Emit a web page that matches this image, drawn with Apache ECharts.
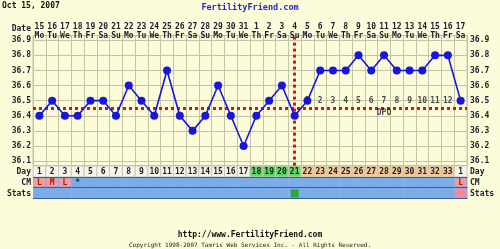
<!DOCTYPE html>
<html><head><meta charset="utf-8">
<script src="https://cdn.jsdelivr.net/npm/echarts@6/dist/echarts.min.js"></script>
<style>html,body{margin:0;padding:0;background:#FCFBDA;}#c{width:500px;height:249px;}</style>
</head><body><div id="c"></div>
<script>
// ---- data ----
const cycleDays = [1,2,3,4,5,6,7,8,9,10,11,12,13,14,15,16,17,18,19,20,21,22,23,24,25,26,27,28,29,30,31,32,33,1];
const dates = ['15','16','17','18','19','20','21','22','23','24','25','26','27','28','29','30','31','1','2','3','4','5','6','7','8','9','10','11','12','13','14','15','16','17'];
const weekdays = ['Mo','Tu','We','Th','Fr','Sa','Su','Mo','Tu','We','Th','Fr','Sa','Su','Mo','Tu','We','Th','Fr','Sa','Su','Mo','Tu','We','Th','Fr','Sa','Su','Mo','Tu','We','Th','Fr','Sa'];
const temps = [36.4,36.5,36.4,36.4,36.5,36.5,36.4,36.6,36.5,36.4,36.7,36.4,36.3,36.4,36.6,36.4,36.2,36.4,36.5,36.6,36.4,36.5,36.7,36.7,36.7,36.8,36.7,36.8,36.7,36.7,36.7,36.8,36.8,36.5];
const dayPhase = ['n','n','n','n','n','n','n','n','n','n','n','n','n','n','n','n','n','f','f','f','f','l','l','l','l','l','l','l','l','l','l','l','l','n'];
const cm = ['L','M','L','*','','','','','','','','','','','','','','','','','','','','','','','','','','','','','','L'];
const stats = ['','','','','','','','','','','','','','','','','','','','','O','','','','','','','','','','','','','P'];
const dpo = [null,null,null,null,null,null,null,null,null,null,null,null,null,null,null,null,null,null,null,null,null,1,2,3,4,5,6,7,8,9,10,11,12,null];
const rowNames = ['Day','CM','Stats'];
const coverline = 36.45;
const ovulationIndex = 20;
const dpoLevel = 36.5;
const dpoTextAt = [27, 36.42];
const yMin = 36.07, yMax = 36.93;

// ---- style ----
const FONT = '"DejaVu Sans Mono", "Liberation Mono", monospace';
const FS = 8;
const TXT = '#1c1c2e';
const gridColor = '#c4c3a6';
const bg = '#FCFBDA';
const phaseColor = {n:'#F6F5EC', f:'#62D862', l:'#F5C896'};
const blue = '#7DACEA', darkBlue = '#3b5d90', pink = '#F29C9C';

const cats = cycleDays.map((d,i)=>String(i));
const tableData = [];
for (let i = 0; i < cycleDays.length; i++) for (let r = 0; r < 3; r++) tableData.push([i, r]);

function yFmt(v){ return Math.abs(v*10 - Math.round(v*10)) < 1e-6 ? v.toFixed(1) : ''; }

function renderCell(params, api){
  const i = api.value(0), r = api.value(1);
  const c = api.coord([i, r]);
  const s = api.size([1, 1]);
  const w = s[0], h = s[1];
  const x0 = c[0] - w/2, y0 = c[1] - h/2;
  const kids = [];
  const f = 'bold ' + FS + 'px ' + FONT;
  if (r === 0) {
    kids.push({type:'rect', shape:{x:x0, y:y0, width:w, height:h}, style:{fill:phaseColor[dayPhase[i]], stroke:'#c8c8b6', lineWidth:1}});
    kids.push({type:'text', style:{x:c[0], y:c[1]+0.5, text:String(cycleDays[i]), align:'center', verticalAlign:'middle', font:f, fill:TXT}});
  } else if (r === 1) {
    kids.push({type:'rect', shape:{x:x0, y:y0, width:w+0.5, height:h}, style:{fill:blue}});
    const m = cm[i];
    if (m && m !== '*') {
      kids.push({type:'rect', shape:{x:x0+0.5, y:y0+1.5, width:w-1, height:h-3}, style:{fill:pink}});
      kids.push({type:'text', style:{x:c[0], y:c[1]+0.5, text:m, align:'center', verticalAlign:'middle', font:f, fill:'#c01010'}});
    } else if (m === '*') {
      kids.push({type:'text', style:{x:c[0], y:c[1]+0.5, text:m, align:'center', verticalAlign:'middle', font:f, fill:'#1a2a80'}});
    }
    kids.push({type:'line', shape:{x1:x0, y1:y0+0.5, x2:x0+w+0.5, y2:y0+0.5}, style:{stroke:darkBlue, lineWidth:1}});
    kids.push({type:'line', shape:{x1:x0, y1:y0+h-0.5, x2:x0+w+0.5, y2:y0+h-0.5}, style:{stroke:darkBlue, lineWidth:1}});
  } else {
    kids.push({type:'rect', shape:{x:x0, y:y0, width:w+0.5, height:h}, style:{fill:blue}});
    if (stats[i] === 'O') kids.push({type:'rect', shape:{x:c[0]-4, y:c[1]-4, width:8, height:8}, style:{fill:'#2fa83a'}});
    if (stats[i] === 'P') kids.push({type:'rect', shape:{x:x0+0.5, y:y0+0.5, width:w-1, height:h-1}, style:{fill:'#F28C9A'}});
    kids.push({type:'line', shape:{x1:x0, y1:y0+h-0.5, x2:x0+w+0.5, y2:y0+h-0.5}, style:{stroke:darkBlue, lineWidth:1}});
  }
  return {type:'group', children:kids};
}

const chart = echarts.init(document.getElementById('c'), null, {renderer:'canvas'});
const lblStyle = {fontFamily:FONT, fontSize:FS, fontWeight:'bold', color:TXT};
chart.setOption({
  animation:false,
  backgroundColor:bg,
  title:[
    {text:'Oct 15, 2007', left:2, top:2, padding:0, textStyle:{fontFamily:FONT, fontSize:FS, fontWeight:'bold', color:'#111'}},
    {text:'FertilityFriend.com', left:'center', top:3, padding:0, textStyle:{fontFamily:FONT, fontSize:8.5, fontWeight:'bold', color:'#2626c8'}},
    {text:'http://www.FertilityFriend.com', left:'center', top:231, padding:0, textStyle:{fontFamily:FONT, fontSize:FS, fontWeight:'bold', color:'#111'}},
    {text:'Copyright 1998-2007 Tamris Web Services Inc. - All Rights Reserved.', left:'center', top:242, padding:0, textStyle:{fontFamily:FONT, fontSize:6, fontWeight:'normal', color:'#222'}}
  ],
  graphic:[{type:'text', style:{x:31, y:29, text:'Date', align:'right', verticalAlign:'middle', font:'bold '+FS+'px '+FONT, fill:TXT}}],
  grid:[
    {left:33, right:33, top:35.7, height:129.9, show:true, backgroundColor:bg, borderColor:gridColor, borderWidth:1},
    {left:33, right:33, top:166, height:33, show:false}
  ],
  xAxis:[
    {type:'category', gridIndex:0, data:cats, position:'top', boundaryGap:true,
     axisLine:{show:false}, axisTick:{show:false},
     splitLine:{show:true, interval:0, lineStyle:{color:gridColor, width:1}},
     axisLabel:{interval:0, margin:-4, formatter:(v,i)=>'{d|'+dates[i]+'}\n{w|'+weekdays[i]+'}',
       rich:{d:{fontFamily:FONT, fontSize:FS, fontWeight:'bold', color:TXT, lineHeight:8.5},
             w:{fontFamily:FONT, fontSize:FS, fontWeight:'bold', color:TXT, lineHeight:8.5}}}},
    {type:'category', gridIndex:1, data:cats, boundaryGap:true, show:false}
  ],
  yAxis:[
    {type:'value', gridIndex:0, min:yMin, max:yMax, minInterval:0.1, maxInterval:0.1,
     axisLine:{show:false}, axisTick:{show:false},
     splitLine:{show:true, lineStyle:{color:gridColor, width:1}},
     axisLabel:{margin:2, formatter:yFmt, ...lblStyle}},
    {type:'value', gridIndex:0, position:'right', min:yMin, max:yMax, minInterval:0.1, maxInterval:0.1,
     axisLine:{show:false}, axisTick:{show:false}, splitLine:{show:false},
     axisLabel:{margin:3, formatter:yFmt, ...lblStyle}},
    {type:'category', gridIndex:1, data:rowNames, inverse:true, axisLine:{show:false}, axisTick:{show:false},
     axisLabel:{margin:2, ...lblStyle}},
    {type:'category', gridIndex:1, data:rowNames, inverse:true, position:'right', axisLine:{show:false}, axisTick:{show:false},
     axisLabel:{margin:3, ...lblStyle}}
  ],
  series:[
    {type:'custom', xAxisIndex:1, yAxisIndex:2, data:tableData, renderItem:renderCell, silent:true},
    {type:'line', xAxisIndex:0, yAxisIndex:0, data:temps, z:5,
     color:'#1616dc', lineStyle:{color:'#1616dc', width:1.6}, symbol:'circle', symbolSize:8, showSymbol:true,
     itemStyle:{color:'#1616dc'},
     markLine:{silent:true, symbol:'none', animation:false, label:{show:false},
       lineStyle:{color:'#dd1010', type:[3,3], width:3},
       data:[{yAxis:coverline}, {xAxis:ovulationIndex}]}},
    {type:'scatter', xAxisIndex:0, yAxisIndex:0, z:6, symbolSize:1, itemStyle:{color:'rgba(0,0,0,0)'},
     data:dpo.map((d,i)=>d==null?null:[i, dpoLevel, d]).filter(x=>x),
     label:{show:true, position:'inside', formatter:p=>String(p.value[2]), ...lblStyle}},
    {type:'scatter', xAxisIndex:0, yAxisIndex:0, z:6, symbolSize:1, itemStyle:{color:'rgba(0,0,0,0)'},
     data:[dpoTextAt],
     label:{show:true, position:'inside', formatter:'DPO', ...lblStyle}}
  ]
});
</script></body></html>
